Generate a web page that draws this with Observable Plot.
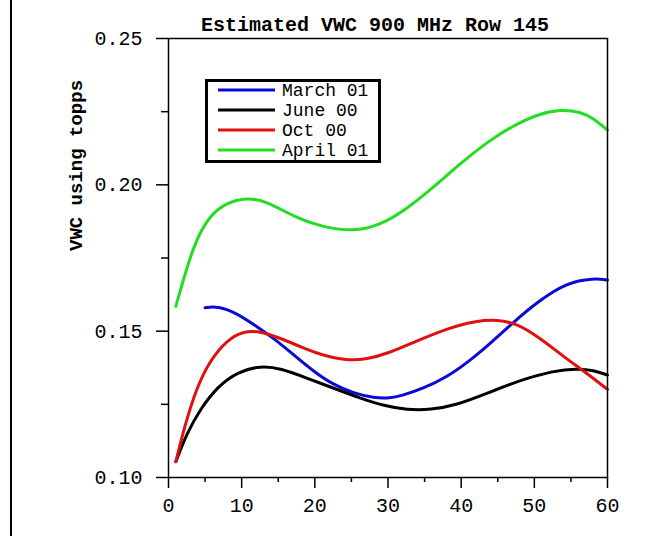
<!DOCTYPE html>
<html>
<head>
<meta charset="utf-8">
<script src="https://cdn.jsdelivr.net/npm/d3@7"></script>
<script src="https://cdn.jsdelivr.net/npm/@observablehq/plot@0.6"></script>
<style>
  html, body { margin: 0; padding: 0; background: #fff; }
  #wrap { position: relative; width: 663px; height: 536px; overflow: hidden; }
  #edge { position: absolute; left: 10px; top: 0; width: 2px; height: 536px; background: #000; }
  #legend { position: absolute; left: 205px; top: 79px; }
</style>
</head>
<body>
<div id="wrap"><div id="edge"></div></div>
<script>
const titleText = "Estimated VWC 900 MHz Row 145";
const yLabel = "VWC using topps";
const seriesNames = ["March 01", "June 00", "Oct 00", "April 01"];
const seriesColors = ["#0a0ad8", "#000000", "#e01010", "#22dd22"];

const xTicks = [0, 10, 20, 30, 40, 50, 60];
const xMinorTicks = [5, 15, 25, 35, 45, 55];
const yTicks = [0.10, 0.15, 0.20, 0.25];
const yMinorTicks = [0.125, 0.175, 0.225];

const marchX = [5, 6.7, 9.4, 12.1, 14.4, 17.1, 19.9, 22.6, 25.3, 28.1, 30.3, 31.7, 34.9, 38.1, 41.3, 44.5, 47.2, 50.4, 54.5, 58.1, 60];
const marchY = [0.1580, 0.1586, 0.1561, 0.1515, 0.1476, 0.1419, 0.1361, 0.1316, 0.1288, 0.1271, 0.1271, 0.1278, 0.1305, 0.1344, 0.1401, 0.1470, 0.1532, 0.1600, 0.1667, 0.1681, 0.1675];

const juneX = [1, 2.5, 4.4, 6.7, 9.4, 12.6, 15.3, 19, 22.6, 26.2, 29.5, 32.6, 35.8, 39.5, 43.6, 48.1, 52.7, 55.8, 58.1, 60];
const juneY = [0.1054, 0.1151, 0.1236, 0.1310, 0.1361, 0.1382, 0.1373, 0.1339, 0.1305, 0.1271, 0.1245, 0.1231, 0.1231, 0.1248, 0.1288, 0.1333, 0.1365, 0.1372, 0.1367, 0.1350];

const octX = [1, 2.3, 3.9, 5.7, 8, 10.3, 12.6, 15.3, 18, 20.8, 24.4, 27.1, 30, 33.5, 38.1, 42.2, 44.9, 47.6, 50.8, 54, 57.2, 60];
const octY = [0.1054, 0.1185, 0.1310, 0.1401, 0.1470, 0.1501, 0.1499, 0.1476, 0.1447, 0.1419, 0.1399, 0.1404, 0.1424, 0.1462, 0.1510, 0.1536, 0.1539, 0.1527, 0.1476, 0.1413, 0.1356, 0.1301];

const aprilX = [1, 3.5, 5.7, 8, 10.8, 13.5, 17.1, 20.8, 25.3, 29, 32.7, 36.3, 39.9, 43.6, 47.2, 50.8, 53.6, 56.3, 58.1, 60];
const aprilY = [0.1585, 0.1805, 0.1898, 0.1940, 0.1957, 0.1943, 0.1891, 0.1857, 0.1840, 0.1862, 0.1920, 0.1994, 0.2073, 0.2147, 0.2204, 0.2244, 0.2257, 0.2250, 0.2227, 0.2187];

const seriesX = [marchX, juneX, octX, aprilX];
const seriesY = [marchY, juneY, octY, aprilY];
const rows = seriesNames.flatMap((name, i) =>
  seriesX[i].map((x, j) => ({series: name, x, y: seriesY[i][j]})));

const font = "'Liberation Mono', 'Courier New', monospace";

const chart = Plot.plot({
  width: 663,
  height: 536,
  marginLeft: 168,
  marginRight: 56,
  marginTop: 38,
  marginBottom: 59,
  style: {fontFamily: font, fontSize: "20px", background: "transparent", color: "#000"},
  x: {domain: [0, 60]},
  y: {domain: [0.10, 0.25]},
  color: {domain: seriesNames, range: seriesColors},
  marks: [
    Plot.line(rows, {x: "x", y: "y", z: "series", stroke: "series", curve: "basis", strokeWidth: 3}),
    Plot.frame({stroke: "#000", strokeWidth: 1.5}),
    Plot.axisX({ticks: xTicks, tickSize: 11, tickPadding: 9, tickFormat: d3.format("d"), label: null, fontSize: 20, strokeWidth: 1.5}),
    Plot.axisX({ticks: xMinorTicks, tickSize: 5, tickFormat: () => "", label: null, strokeWidth: 1.5}),
    Plot.axisY({ticks: yTicks, tickSize: 12, tickPadding: 14, tickFormat: d3.format(".2f"), label: null, fontSize: 20, strokeWidth: 1.5}),
    Plot.axisY({ticks: yMinorTicks, tickSize: 7, tickFormat: () => "", label: null, strokeWidth: 1.5}),
    Plot.text([titleText], {frameAnchor: "top", dy: -22, dx: -13, fontSize: 20, fill: "#000", fontWeight: "bold"}),
    Plot.text([yLabel], {frameAnchor: "left", dx: -93, dy: -7, rotate: -90, fontSize: 19, fill: "#000", fontWeight: "bold"})
  ]
});
document.getElementById("wrap").appendChild(chart);

// legend built from the series arrays
const lg = d3.select("#wrap").append("svg").attr("id", "legend")
  .attr("width", 178).attr("height", 85);
lg.append("rect").attr("x", 1.5).attr("y", 1.5).attr("width", 173).attr("height", 81)
  .attr("fill", "#fff").attr("stroke", "#000").attr("stroke-width", 3);
const item = lg.selectAll("g").data(seriesNames).join("g")
  .attr("transform", (d, i) => `translate(0,${11 + i * 20})`);
item.append("line").attr("x1", 13).attr("x2", 70).attr("y1", 0).attr("y2", 0)
  .attr("stroke", (d, i) => seriesColors[i]).attr("stroke-width", 3);
item.append("text").attr("x", 77).attr("y", 0).attr("dy", "0.35em")
  .style("font-family", font).style("font-size", "18px").text(d => d);
</script>
</body>
</html>
